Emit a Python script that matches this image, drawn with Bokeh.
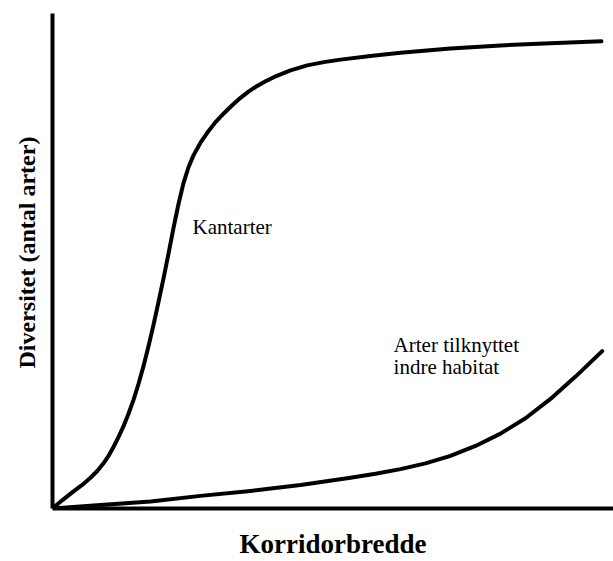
from bokeh.plotting import figure
from bokeh.models import Label, Range1d, Title, FixedTicker
from bokeh.embed import file_html
from bokeh.resources import INLINE

# Kantarter (edge species) curve
edge_x = [0, 1.78, 3.57, 5.35, 6.77, 8.02, 9.09, 9.98, 10.87, 11.76, 12.66, 13.55, 14.44,
          15.33, 16.22, 17.11, 18.00, 18.89, 19.79, 20.68, 21.57, 22.46, 23.35, 24.24, 25.13,
          26.38, 27.58, 29.06, 30.53, 32.03, 33.51, 34.99, 36.49, 37.97, 39.45, 42.42, 45.40,
          48.36, 51.34, 56.68, 62.03, 70.94, 79.86, 88.77, 97.86]
edge_y = [0, 1.70, 3.31, 4.81, 6.21, 7.62, 9.12, 10.62, 12.42, 14.43, 16.63, 19.14, 21.94,
          25.15, 28.76, 32.77, 37.07, 41.68, 46.49, 51.50, 56.71, 61.52, 65.73, 68.94, 71.34,
          73.89, 75.89, 78.06, 79.80, 81.46, 82.97, 84.27, 85.37, 86.31, 87.13, 88.52, 89.52,
          90.18, 90.68, 91.42, 92.08, 92.93, 93.55, 94.01, 94.39]

# Arter tilknyttet indre habitat (interior species) curve
inner_x = [0, 8.56, 17.47, 26.38, 35.29, 44.21, 53.12, 57.58, 62.03, 66.49, 70.94, 75.40,
           79.86, 84.31, 88.77, 93.23, 97.99]
inner_y = [0, 0.70, 1.40, 2.55, 3.55, 4.75, 6.21, 7.01, 7.96, 9.12, 10.62, 12.63,
           15.13, 18.24, 22.14, 26.65, 31.80]

x_title = "Korridorbredde"
y_title = "Diversitet (antal arter)"
edge_label = "Kantarter"
inner_label = ["Arter tilknyttet", "indre habitat"]

FONT = "Liberation Serif"

p = figure(width=613, height=561, output_backend="svg", toolbar_location=None,
           x_range=Range1d(0, 100), y_range=Range1d(0, 100),
           min_border_left=52, min_border_right=0, min_border_top=13, min_border_bottom=49)
p.outline_line_color = None
p.xgrid.visible = False
p.ygrid.visible = False
p.background_fill_color = "white"
p.border_fill_color = "white"

for ax in (p.xaxis[0], p.yaxis[0]):
    ax.ticker = FixedTicker(ticks=[])
    ax.axis_line_width = 4
    ax.axis_line_color = "black"
    ax.major_tick_line_color = None
    ax.minor_tick_line_color = None
    ax.major_label_standoff = 0
    ax.major_tick_out = 0
    ax.major_tick_in = 0

xa = p.xaxis[0]
xa.axis_label = x_title
xa.axis_label_text_font = FONT
xa.axis_label_text_font_size = "27px"
xa.axis_label_text_font_style = "bold"
xa.axis_label_text_color = "black"
xa.axis_label_standoff = 20

p.add_layout(Title(text=y_title, text_font=FONT, text_font_size="24px", text_font_style="bold",
                   text_color="black", align="left", offset=140, vertical_align="top",
                   standoff=22), "left")

p.line(edge_x, edge_y, line_width=4, line_color="black", line_cap="round", line_join="round")
p.line(inner_x, inner_y, line_width=4, line_color="black", line_cap="round", line_join="round")

p.add_layout(Label(x=24.96, y=56.9, text=edge_label, text_font=FONT, text_font_size="21px",
                   text_color="black", text_baseline="alphabetic"))
p.add_layout(Label(x=60.8, y=33.1, text=inner_label[0], text_font=FONT, text_font_size="21px",
                   text_color="black", text_baseline="alphabetic"))
p.add_layout(Label(x=60.8, y=28.5, text=inner_label[1], text_font=FONT, text_font_size="21px",
                   text_color="black", text_baseline="alphabetic"))

open("out.html", "w").write(file_html(p, INLINE))
